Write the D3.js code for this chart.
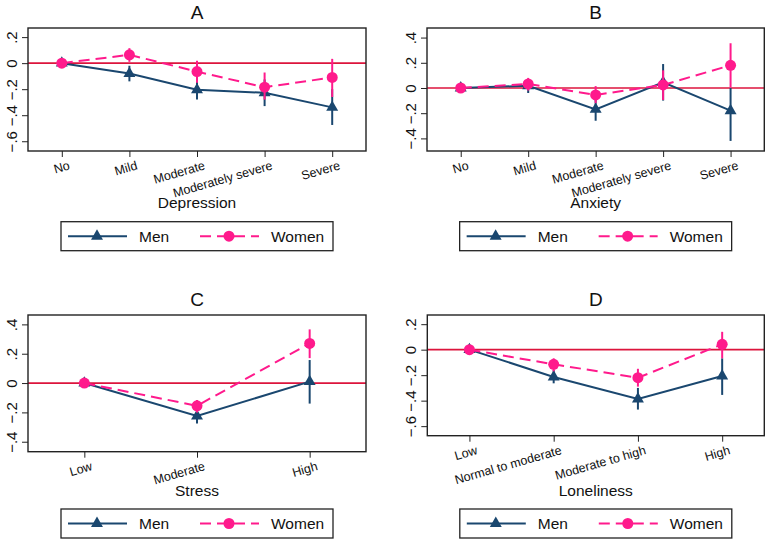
<!DOCTYPE html>
<html>
<head>
<meta charset="utf-8">
<script src="https://cdn.jsdelivr.net/npm/d3@7"></script>
<style>
  body { margin: 0; background: #fff; }
  svg { display: block; }
  svg text { font-family: "Liberation Sans", Arial, sans-serif; }
</style>
</head>
<body>
<svg id="chart" width="768" height="540"></svg>
<script>
// ---- values ----
const depLevels = ["No", "Mild", "Moderate", "Moderately severe", "Severe"];
const depMen      = [0, -0.08, -0.205, -0.228, -0.34];
const depMenLo    = [0, -0.14, -0.28, -0.33, -0.475];
const depMenHi    = [0, -0.02, -0.13, -0.125, -0.2];
const depWomen    = [0, 0.064, -0.065, -0.185, -0.11];
const depWomenLo  = [0, 0.01, -0.15, -0.28, -0.26];
const depWomenHi  = [0, 0.115, 0.018, -0.072, 0.033];
const depTicks    = [0.2, 0, -0.2, -0.4, -0.6];

const anxLevels = ["No", "Mild", "Moderate", "Moderately severe", "Severe"];
const anxMen      = [0, 0.018, -0.17, 0.045, -0.18];
const anxMenLo    = [0, -0.04, -0.26, -0.1, -0.42];
const anxMenHi    = [0, 0.07, -0.08, 0.19, 0.0];
const anxWomen    = [0, 0.032, -0.055, 0.024, 0.18];
const anxWomenLo  = [0, -0.02, -0.12, -0.095, 0.005];
const anxWomenHi  = [0, 0.08, 0.015, 0.14, 0.355];
const anxTicks    = [0.4, 0.2, 0, -0.2, -0.4];

const strLevels = ["Low", "Moderate", "High"];
const strMen      = [0, -0.225, 0.01];
const strMenLo    = [0, -0.275, -0.14];
const strMenHi    = [0, -0.18, 0.157];
const strWomen    = [0, -0.155, 0.27];
const strWomenLo  = [0, -0.2, 0.17];
const strWomenHi  = [0, -0.115, 0.366];
const strTicks    = [0.4, 0.2, 0, -0.2, -0.4];

const lonLevels = ["Low", "Normal to moderate", "Moderate to high", "High"];
const lonMen      = [0, -0.214, -0.387, -0.206];
const lonMenLo    = [0, -0.264, -0.47, -0.355];
const lonMenHi    = [0, -0.16, -0.30, -0.068];
const lonWomen    = [0, -0.115, -0.22, 0.042];
const lonWomenLo  = [0, -0.17, -0.29, -0.068];
const lonWomenHi  = [0, -0.068, -0.15, 0.14];
const lonTicks    = [0.2, 0, -0.2, -0.4, -0.6];

const seriesNames = ["Men", "Women"];

// colours
const menColor = "#1a476f";
const womenColor = "#ff1a8c";
const refColor = "#dc143c";
const frameColor = "#222";

// panel layout
const panels = [
  {title: "A", xTitle: "Depression", levels: depLevels, ticks: depTicks,
   men: [depMen, depMenLo, depMenHi], women: [depWomen, depWomenLo, depWomenHi],
   box: {l: 28, r: 366, t: 28, b: 151}, yDom: [-0.675, 0.27], xTitleY: 208, legY: 221.7},
  {title: "B", xTitle: "Anxiety", levels: anxLevels, ticks: anxTicks,
   men: [anxMen, anxMenLo, anxMenHi], women: [anxWomen, anxWomenLo, anxWomenHi],
   box: {l: 427, r: 764.3, t: 28, b: 151}, yDom: [-0.5, 0.476], xTitleY: 208, legY: 221.7},
  {title: "C", xTitle: "Stress", levels: strLevels, ticks: strTicks,
   men: [strMen, strMenLo, strMenHi], women: [strWomen, strWomenLo, strWomenHi],
   box: {l: 28, r: 366, t: 315, b: 451.7}, yDom: [-0.468, 0.464], xTitleY: 495.5, legY: 509},
  {title: "D", xTitle: "Loneliness", levels: lonLevels, ticks: lonTicks,
   men: [lonMen, lonMenLo, lonMenHi], women: [lonWomen, lonWomenLo, lonWomenHi],
   box: {l: 427.3, r: 764.3, t: 315, b: 435.7}, yDom: [-0.675, 0.272], xTitleY: 495.5, legY: 509}
];

// Stata style tick labels: .2, 0, -.2
const fmt = v => v === 0 ? "0" : (v < 0 ? "\u2212" : "") + String(Math.abs(v)).replace(/^0/, "");

const svg = d3.select("#chart");
const triangle = d3.symbol().type(d3.symbolTriangle).size(62);

function drawSeries(g, x, y, vals, color, dashed, marker) {
  const [est, lo, hi] = vals;
  const idx = d3.range(est.length);
  // confidence intervals
  g.selectAll(null)
    .data(idx.filter(i => lo[i] !== hi[i]))
    .enter().append("line")
    .attr("x1", i => x(i + 1)).attr("x2", i => x(i + 1))
    .attr("y1", i => y(lo[i])).attr("y2", i => y(hi[i]))
    .attr("stroke", color).attr("stroke-width", 2);
  // connecting line
  g.append("path")
    .datum(idx)
    .attr("fill", "none")
    .attr("stroke", color)
    .attr("stroke-width", 2)
    .attr("stroke-dasharray", dashed ? "11,6" : null)
    .attr("d", d3.line().x(i => x(i + 1)).y(i => y(est[i])));
  // markers
  if (marker === "tri") {
    g.selectAll(null).data(idx).enter().append("path")
      .attr("d", triangle)
      .attr("transform", i => `translate(${x(i + 1)},${y(est[i])})`)
      .attr("fill", color);
  } else {
    g.selectAll(null).data(idx).enter().append("circle")
      .attr("cx", i => x(i + 1)).attr("cy", i => y(est[i]))
      .attr("r", 5.5).attr("fill", color);
  }
}

panels.forEach(p => {
  const g = svg.append("g");
  const n = p.levels.length;
  const x = d3.scaleLinear().domain([0.5, n + 0.5]).range([p.box.l, p.box.r]);
  const y = d3.scaleLinear().domain(p.yDom).range([p.box.b, p.box.t]);
  const cx = (p.box.l + p.box.r) / 2;

  // reference line at zero
  g.append("line")
    .attr("x1", p.box.l).attr("x2", p.box.r)
    .attr("y1", y(0)).attr("y2", y(0))
    .attr("stroke", refColor).attr("stroke-width", 1.7);

  // x axis
  const xa = g.append("g")
    .attr("transform", `translate(0,${p.box.b})`)
    .call(d3.axisBottom(x).tickValues(d3.range(1, n + 1)).tickSize(6).tickPadding(4)
      .tickFormat(i => p.levels[i - 1]));
  xa.attr("font-family", null).attr("font-size", null);
  xa.select(".domain").remove();
  xa.selectAll("line").attr("stroke", frameColor);
  xa.selectAll("text")
    .style("font-size", "12.5px").attr("fill", "#111")
    .attr("text-anchor", "end")
    .attr("transform", "translate(3,0) rotate(-16)");

  // y axis
  const ya = g.append("g")
    .attr("transform", `translate(${p.box.l},0)`)
    .call(d3.axisLeft(y).tickValues(p.ticks).tickSize(6).tickFormat(fmt));
  ya.attr("font-family", null).attr("font-size", null);
  ya.select(".domain").remove();
  ya.selectAll("line").attr("stroke", frameColor);
  ya.selectAll("text")
    .style("font-size", "15px").attr("fill", "#111")
    .attr("x", 0).attr("y", 0).attr("dy", 0)
    .attr("text-anchor", "middle")
    .attr("transform", "translate(-11,0) rotate(-90)");

  // data
  drawSeries(g, x, y, p.men, menColor, false, "tri");
  drawSeries(g, x, y, p.women, womenColor, true, "circle");

  // frame
  g.append("rect")
    .attr("x", p.box.l).attr("y", p.box.t)
    .attr("width", p.box.r - p.box.l).attr("height", p.box.b - p.box.t)
    .attr("fill", "none").attr("stroke", frameColor).attr("stroke-width", 1.4);

  // titles
  g.append("text").attr("x", cx).attr("y", p.box.t - 9)
    .attr("text-anchor", "middle").style("font-size", "19px").attr("fill", "#111")
    .text(p.title);
  g.append("text").attr("x", cx).attr("y", p.xTitleY)
    .attr("text-anchor", "middle").style("font-size", "15.5px").attr("fill", "#111")
    .text(p.xTitle);

  // legend
  const lw = 272, lh = 29, lx = cx - lw / 2, ly = p.legY;
  const lg = g.append("g").attr("transform", `translate(${lx},${ly})`);
  lg.append("rect").attr("width", lw).attr("height", lh)
    .attr("fill", "#fff").attr("stroke", frameColor).attr("stroke-width", 1.3);
  const my = lh / 2;
  lg.append("line").attr("x1", 7).attr("x2", 66).attr("y1", my).attr("y2", my)
    .attr("stroke", menColor).attr("stroke-width", 2);
  lg.append("path").attr("d", triangle).attr("transform", `translate(36,${my})`).attr("fill", menColor);
  lg.append("text").attr("x", 78).attr("y", my + 5.5).style("font-size", "15.5px").attr("fill", "#111").text(seriesNames[0]);
  lg.append("line").attr("x1", 139).attr("x2", 198).attr("y1", my).attr("y2", my)
    .attr("stroke", womenColor).attr("stroke-width", 2).attr("stroke-dasharray", "11,6");
  lg.append("circle").attr("cx", 168).attr("cy", my).attr("r", 5.5).attr("fill", womenColor);
  lg.append("text").attr("x", 210).attr("y", my + 5.5).style("font-size", "15.5px").attr("fill", "#111").text(seriesNames[1]);
});
</script>
</body>
</html>
